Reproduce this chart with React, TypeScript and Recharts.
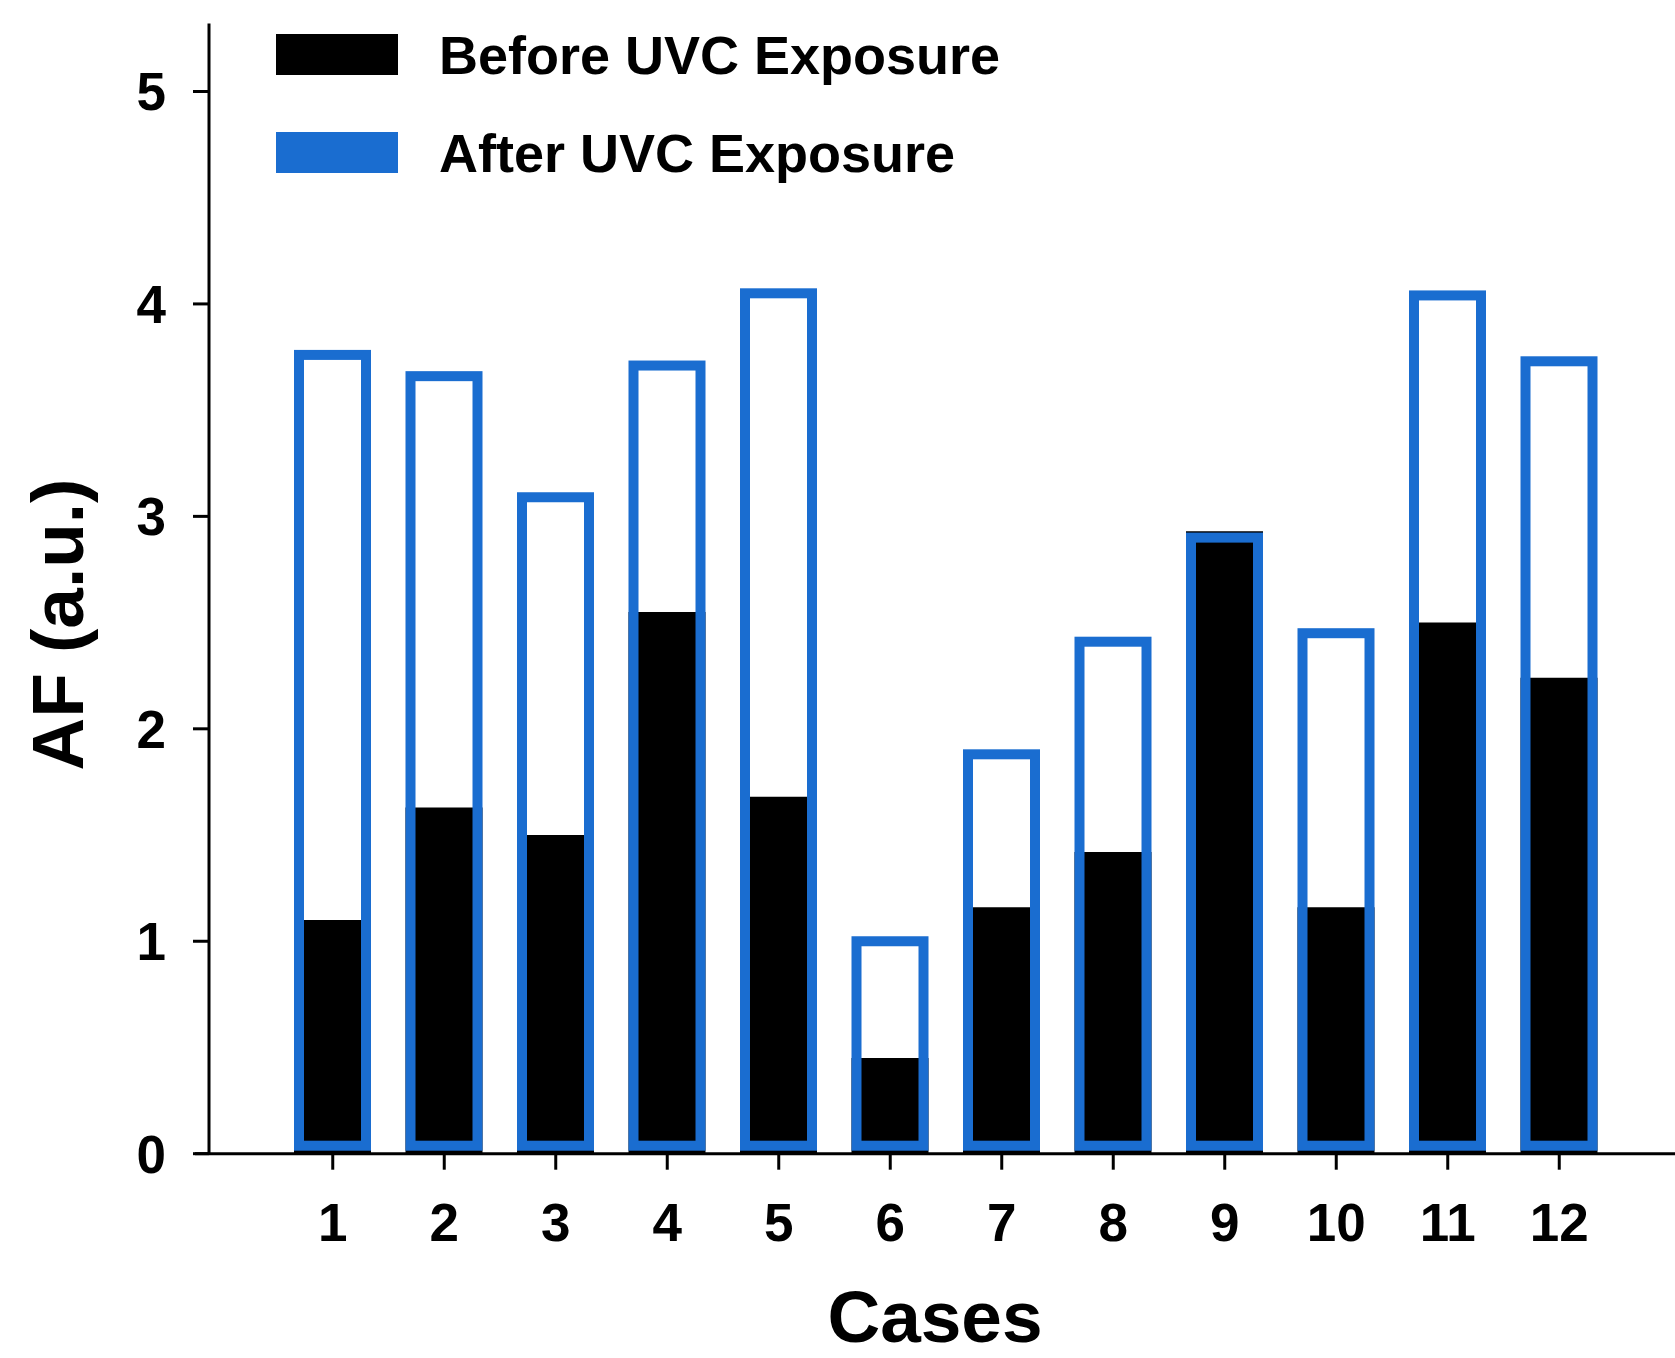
import React from "react";
import {
  BarChart,
  Bar,
  XAxis,
  YAxis,
  Legend,
  usePlotArea,
} from "recharts";

const cases = ["1", "2", "3", "4", "5", "6", "7", "8", "9", "10", "11", "12"];
const beforeUVC = [1.1, 1.63, 1.5, 2.55, 1.68, 0.45, 1.16, 1.42, 2.93, 1.16, 2.5, 2.24];
const afterUVC = [3.76, 3.66, 3.09, 3.71, 4.05, 1.0, 1.88, 2.41, 2.9, 2.45, 4.04, 3.73];
const yTicks = [0, 1, 2, 3, 4, 5];

const FONT = '"Liberation Sans", Arial, Helvetica, sans-serif';
const BLUE = "#1a6dd0";
const BORDER = 10;

const data = cases.map((c, i) => ({
  caseNo: c,
  before: beforeUVC[i],
  after: afterUVC[i],
}));

const legendOrder = ["before", "after"];
const swatch: Record<string, string> = { before: "#000", after: BLUE };

// hollow bar: blue border kept inside the band, resting just above the axis
const OutlineBar = (props: any) => {
  const { x, y, width, height } = props;
  if (height == null || height <= 0) return null;
  return (
    <rect
      x={x + BORDER / 2}
      y={y}
      width={width - BORDER}
      height={height - BORDER / 2 - 3}
      fill="none"
      stroke={BLUE}
      strokeWidth={BORDER}
    />
  );
};

// short run of the x axis to the left of the y axis
const AxisStub = () => {
  const area = usePlotArea();
  if (!area) return null;
  const y0 = area.y + area.height;
  return (
    <line x1={area.x - 14} x2={area.x} y1={y0} y2={y0} stroke="#000" strokeWidth={3} />
  );
};

const YTitle = (props: any) => {
  const vb = props.viewBox || {};
  const cx = 83;
  const cy = vb.y + vb.height / 2 + 36;
  return (
    <text
      x={cx}
      y={cy}
      transform={`rotate(-90, ${cx}, ${cy})`}
      textAnchor="middle"
      fontFamily={FONT}
      fontWeight={700}
      fontSize={73}
      fill="#000"
    >
      AF (a.u.)
    </text>
  );
};

const renderLegend = (props: any) => {
  const items = [...(props.payload || [])].sort(
    (a: any, b: any) => legendOrder.indexOf(a.dataKey) - legendOrder.indexOf(b.dataKey)
  );
  return (
    <div style={{ fontFamily: FONT, fontWeight: 700, fontSize: 54, color: "#000" }}>
      {items.map((item: any, i: number) => (
        <div
          key={item.dataKey}
          style={{
            display: "flex",
            alignItems: "center",
            height: 41,
            marginBottom: i === 0 ? 57 : 0,
          }}
        >
          <div style={{ width: 122, height: 41, background: swatch[item.dataKey] }} />
          <span style={{ marginLeft: 41, lineHeight: 1, whiteSpace: "nowrap" }}>
            {item.value}
          </span>
        </div>
      ))}
    </div>
  );
};

export default function App() {
  const tickStyle = { fontFamily: FONT, fontWeight: 700, fontSize: 53, fill: "#000" };
  return (
    <div style={{ position: "absolute", left: 0, top: 0, background: "#fff" }}>
      <BarChart
        width={1675}
        height={1358}
        data={data}
        margin={{ top: 23.5, right: 0, bottom: 0, left: 0 }}
        barGap={-77}
      >
        <XAxis
          dataKey="caseNo"
          height={204.3}
          padding={{ left: 68, right: 60 }}
          axisLine={{ stroke: "#000", strokeWidth: 3 }}
          tickLine={{ stroke: "#000", strokeWidth: 3 }}
          tickSize={16}
          tickMargin={34}
          tick={tickStyle}
          interval={0}
          label={{
            value: "Cases",
            position: "insideBottom",
            offset: 16,
            dx: -7,
            style: { fontFamily: FONT, fontWeight: 700, fontSize: 73, fill: "#000" },
          }}
        />
        <YAxis
          width={209}
          domain={[0, 5.32]}
          ticks={yTicks}
          allowDecimals={false}
          axisLine={{ stroke: "#000", strokeWidth: 3 }}
          tickLine={{ stroke: "#000", strokeWidth: 3 }}
          tickSize={16}
          tickMargin={27}
          tick={tickStyle}
          label={<YTitle />}
        />
        <Legend
          layout="vertical"
          align="center"
          verticalAlign="middle"
          content={renderLegend}
          wrapperStyle={{ left: 276, top: 34 }}
        />
        <Bar
          dataKey="before"
          name="Before UVC Exposure"
          fill="#000"
          barSize={77}
          isAnimationActive={false}
        />
        <Bar
          dataKey="after"
          name="After UVC Exposure"
          fill={BLUE}
          barSize={77}
          shape={<OutlineBar />}
          isAnimationActive={false}
        />
        <AxisStub />
      </BarChart>
    </div>
  );
}
